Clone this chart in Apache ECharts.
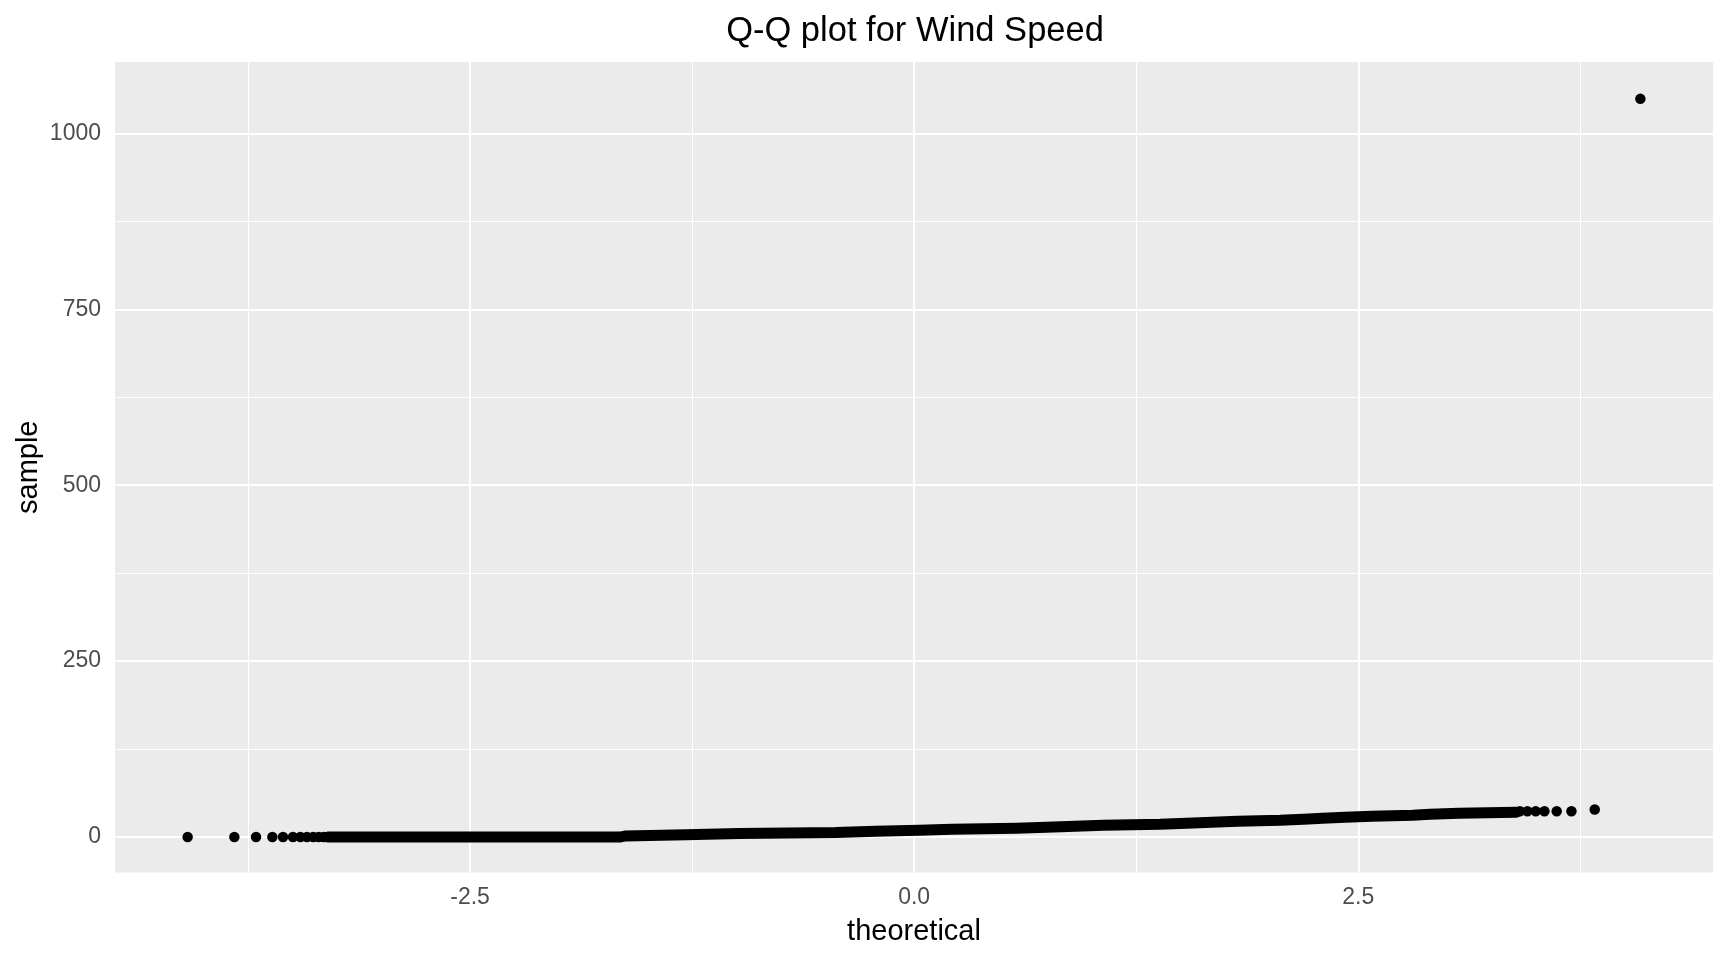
<!DOCTYPE html>
<html>
<head>
<meta charset="utf-8">
<title>Q-Q plot for Wind Speed</title>
<script src="https://cdn.jsdelivr.net/npm/echarts@6/dist/echarts.min.js"></script>
<style>
  html, body { margin: 0; padding: 0; background: #fff; }
  #chart { width: 1728px; height: 960px; }
</style>
</head>
<body>
<div id="chart"></div>
<script>
// points: theoretical quantile vs sample value
const lowTailTheo = [-4.090, -3.827, -3.705, -3.613, -3.553, -3.497, -3.455, -3.418, -3.383, -3.352, -3.324]
const lowTailSample = [0, 0, 0, 0, 0, 0, 0, 0, 0, 0, 0]
const highTailTheo = [3.410, 3.452, 3.499, 3.548, 3.617, 3.700, 3.831]
const highTailSample = [36.7, 36.7, 36.7, 36.7, 36.7, 36.7, 39.1]
const outlierTheo = [4.088]
const outlierSample = [1049]

// dense middle part, where the points overlap into a band:
// theoretical value where the sample steps up, and the new sample value
const bandTheo = [-3.30, -1.655, -1.625, -1.285, -0.985, -0.441, -0.216, 0.028, 0.212, 0.576, 0.745, 0.907, 1.064, 1.383, 1.532, 1.676, 1.821, 2.061, 2.192, 2.299, 2.425, 2.577, 2.806, 2.904, 3.065, 3.39]
const bandSample = [0, 1.5, 3.1, 5.0, 6.4, 8.3, 9.7, 11.0, 12.6, 14.0, 15.4, 16.8, 18.2, 19.7, 21.1, 22.5, 23.9, 25.4, 26.8, 28.2, 29.6, 31.0, 32.5, 33.9, 35.3, 35.3]

const xMajor = [-2.5, 0, 2.5]
const xMinor = [-3.75, -1.25, 1.25, 3.75]
const xTickLabels = ['-2.5', '0.0', '2.5']
const yMajor = [0, 250, 500, 750, 1000]
const yMinor = [125, 375, 625, 875]
const yTickLabels = ['0', '250', '500', '750', '1000']
// axis limits
const yLimits = [-50.4, 1101.4]

const font = 'Liberation Sans, Arial, Helvetica, sans-serif'

const pairs = (xs, ys) => xs.map((x, i) => [x, ys[i]])

// ggplot style 5% expansion of the data range
const allX = [...lowTailTheo, ...highTailTheo, ...outlierTheo, ...bandTheo]
const expand = (vals) => {
  const lo = Math.min(...vals)
  const hi = Math.max(...vals)
  const pad = (hi - lo) * 0.05
  return [lo - pad, hi + pad]
}
const [xMin, xMax] = expand(allX)

const gridLines = [
  ...xMinor.map((v) => ({ xAxis: v, lineStyle: { width: 1 } })),
  ...yMinor.map((v) => ({ yAxis: v, lineStyle: { width: 1 } })),
  ...xMajor.map((v) => ({ xAxis: v, lineStyle: { width: 2 } })),
  ...yMajor.map((v) => ({ yAxis: v, lineStyle: { width: 2 } })),
]

const tickStyle = { show: true, length: 7, lineStyle: { color: '#333333', width: 2 } }
const labelStyle = { color: '#4D4D4D', fontSize: 23, fontFamily: font, margin: 14 }

const chart = echarts.init(document.getElementById('chart'), null, { renderer: 'canvas' })

const option = {
  backgroundColor: '#ffffff',
  animation: false,
  title: {
    text: 'Q-Q plot for Wind Speed',
    left: 910,
    top: 9,
    textAlign: 'center',
    textStyle: { color: '#000000', fontSize: 34.5, fontWeight: 'normal', fontFamily: font },
  },
  grid: {
    left: 115,
    right: 15,
    top: 62,
    bottom: 87.5,
    show: true,
    backgroundColor: '#EBEBEB',
    borderWidth: 0,
  },
  xAxis: {
    type: 'value',
    min: xMin,
    max: xMax,
    name: 'theoretical',
    nameLocation: 'middle',
    nameGap: 45,
    nameTextStyle: { color: '#000000', fontSize: 29, fontFamily: font },
    axisLine: { show: false },
    axisTick: { ...tickStyle, customValues: xMajor },
    axisLabel: {
      ...labelStyle,
      customValues: xMajor,
      formatter: (v) => xTickLabels[xMajor.indexOf(v)] ?? '',
    },
    splitLine: { show: false },
  },
  yAxis: {
    type: 'value',
    min: yLimits[0],
    max: yLimits[1],
    name: 'sample',
    nameLocation: 'middle',
    nameGap: 72,
    nameMoveOverlap: false,
    nameTextStyle: { color: '#000000', fontSize: 29, fontFamily: font },
    axisLine: { show: false },
    axisTick: { ...tickStyle, customValues: yMajor },
    axisLabel: {
      ...labelStyle,
      customValues: yMajor,
      formatter: (v) => yTickLabels[yMajor.indexOf(v)] ?? '',
    },
    splitLine: { show: false },
  },
  series: [
    {
      name: 'grid',
      type: 'line',
      data: [],
      silent: true,
      z: 1,
      markLine: {
        silent: true,
        z: 1,
        symbol: ['none', 'none'],
        label: { show: false },
        lineStyle: { color: '#ffffff', type: 'solid' },
        emphasis: { disabled: true },
        data: gridLines,
      },
    },
    {
      name: 'band',
      type: 'line',
      step: 'end',
      z: 3,
      silent: true,
      showSymbol: false,
      data: pairs(bandTheo, bandSample),
      lineStyle: { color: '#000000', width: 11, cap: 'round', join: 'miter' },
    },
    {
      name: 'tails',
      type: 'scatter',
      z: 3,
      silent: true,
      symbolSize: 10.5,
      itemStyle: { color: '#000000', opacity: 1 },
      data: [
        ...pairs(lowTailTheo, lowTailSample),
        ...pairs(highTailTheo, highTailSample),
        ...pairs(outlierTheo, outlierSample),
      ],
    },
  ],
}

chart.setOption(option)
</script>
</body>
</html>
